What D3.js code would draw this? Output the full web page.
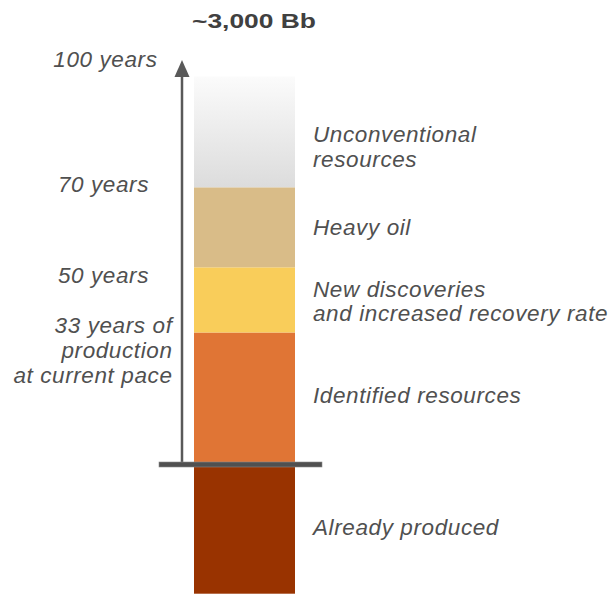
<!DOCTYPE html>
<html>
<head>
<meta charset="utf-8">
<script src="https://cdn.jsdelivr.net/npm/d3@7"></script>
<style>
  body { margin: 0; background: #fff; }
  svg { display: block; font-family: "Liberation Sans", Arial, sans-serif; }
</style>
</head>
<body>
<div id="chart"></div>
<script>
// segments, bottom to top, height in "years of production"
var segments = ["Already produced", "Identified resources", "New discoveries", "Heavy oil", "Unconventional"];
var segYears = [32.3, 33, 16.3, 20, 27.7];
var segColors = ["#993300", "#e07535", "#f9cd5a", "#d9bc88", "url(#fade)"];

// text beside the bar (lines per segment)
var segLabels = [
  ["Already produced"],
  ["Identified resources"],
  ["New discoveries", "and increased recovery rate"],
  ["Heavy oil"],
  ["Unconventional", "resources"]
];
var segLabelY = [535, 403, 296.7, 234.5, 142.3];

// year marks on the left
var yearLabels = [["100 years"], ["70 years"], ["50 years"], ["33 years of", "production", "at current pace"]];
var yearLabelY = [66.7, 191.7, 283.3, 333.3];
var yearLabelX = [157.5, 149, 149, 172.5];

var total = "~3,000 Bb";

var width = 613, height = 595;
var svg = d3.select("#chart").append("svg")
  .attr("width", width)
  .attr("height", height);

var defs = svg.append("defs");
var grad = defs.append("linearGradient")
  .attr("id", "fade")
  .attr("x1", 0).attr("y1", 1).attr("x2", 0).attr("y2", 0);
grad.append("stop").attr("offset", "0%").attr("stop-color", "#dcdcdc");
grad.append("stop").attr("offset", "100%").attr("stop-color", "#fbfbfb");

var produced = segYears[0];
var future = d3.sum(segYears.slice(1));
var y = d3.scaleLinear().domain([-produced, future]).range([593.7, 76.5]);
var x = d3.scaleBand().domain(["bar"]).range([194, 295]).padding(0);

// stack
var stack = [];
var acc = -produced;
segYears.forEach(function (v, i) {
  stack.push({ name: segments[i], y0: acc, y1: acc + v, color: segColors[i] });
  acc += v;
});

svg.selectAll(".seg")
  .data(stack)
  .enter()
  .append("rect")
  .attr("class", "seg")
  .attr("x", x("bar"))
  .attr("width", x.bandwidth())
  .attr("y", function (d) { return y(d.y1); })
  .attr("height", function (d) { return y(d.y0) - y(d.y1); })
  .attr("fill", function (d) { return d.color; });

// vertical arrow axis
svg.append("line")
  .attr("x1", 182).attr("x2", 182)
  .attr("y1", y(0)).attr("y2", 74)
  .attr("stroke", "#595959")
  .attr("stroke-width", 2.5);
svg.append("path")
  .attr("d", "M174.5,77 L182,60 L189.5,77 Z")
  .attr("fill", "#595959");

// baseline (today)
svg.append("rect")
  .attr("x", 159)
  .attr("y", y(0) - 2.5)
  .attr("width", 163)
  .attr("height", 5)
  .attr("fill", "#505050")
  .attr("stroke", "#8a8a8a")
  .attr("stroke-width", 0.6);

// title
svg.append("text")
  .attr("x", 254)
  .attr("y", 28)
  .attr("text-anchor", "middle")
  .attr("font-weight", "bold")
  .attr("font-size", "21px")
  .attr("textLength", 124)
  .attr("lengthAdjust", "spacingAndGlyphs")
  .attr("fill", "#404040")
  .text(total);

// segment labels
segLabels.forEach(function (lines, i) {
  var t = svg.append("text")
    .attr("x", 313)
    .attr("y", segLabelY[i])
    .attr("font-style", "italic")
    .attr("font-size", "22.5px")
    .attr("letter-spacing", "0.6px")
    .attr("fill", "#505050");
  lines.forEach(function (s, j) {
    t.append("tspan").attr("x", 313).attr("dy", j === 0 ? 0 : 24.5).text(s);
  });
});

// year labels
yearLabels.forEach(function (lines, i) {
  var t = svg.append("text")
    .attr("x", yearLabelX[i])
    .attr("y", yearLabelY[i])
    .attr("text-anchor", "end")
    .attr("font-style", "italic")
    .attr("font-size", "22.5px")
    .attr("letter-spacing", "0.6px")
    .attr("fill", "#505050");
  lines.forEach(function (s, j) {
    t.append("tspan").attr("x", yearLabelX[i]).attr("dy", j === 0 ? 0 : 25).text(s);
  });
});
</script>
</body>
</html>
